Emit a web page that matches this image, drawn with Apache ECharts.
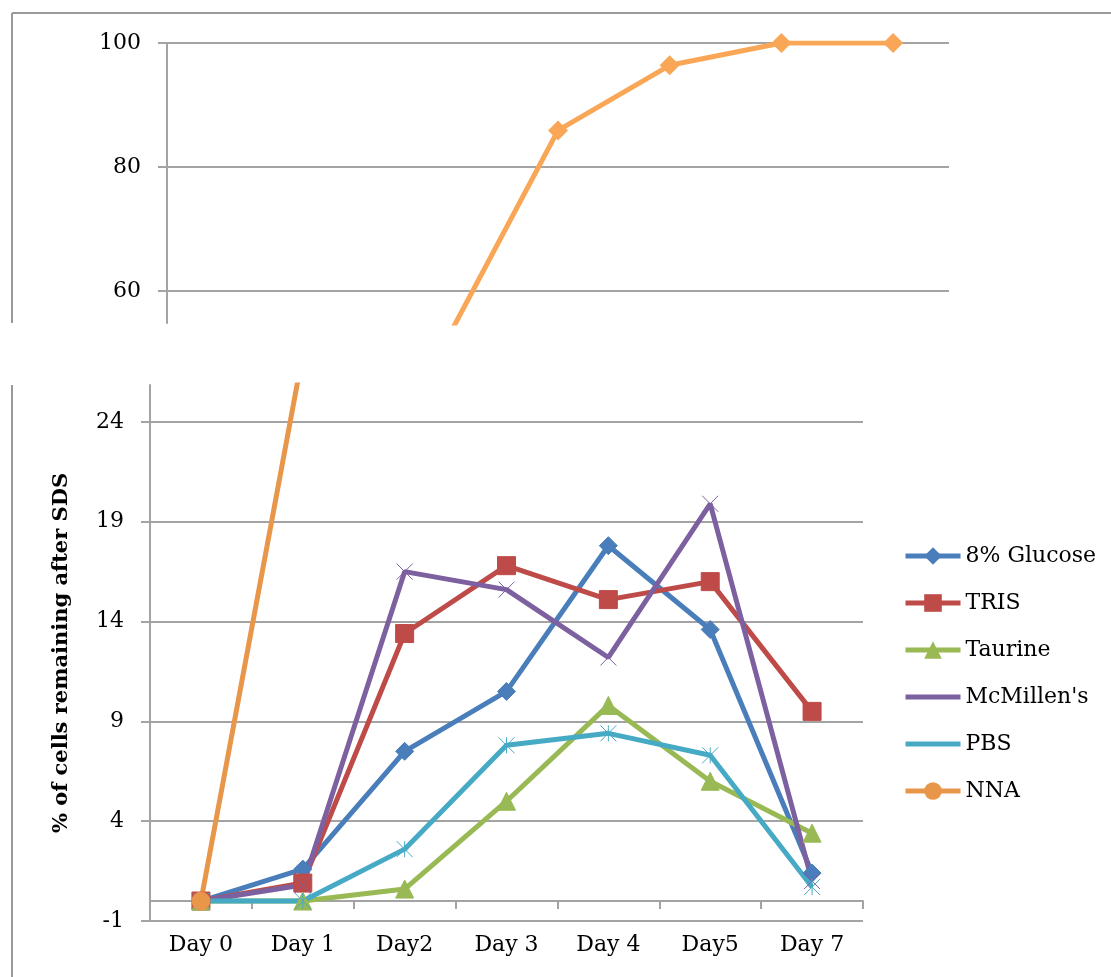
<!DOCTYPE html>
<html>
<head>
<meta charset="utf-8">
<script src="https://cdn.jsdelivr.net/npm/echarts@6/dist/echarts.min.js"></script>
<style>
  html, body { margin: 0; padding: 0; background: #fff; }
  #main { width: 1111px; height: 977px; }
</style>
</head>
<body>
<div id="main"></div>
<script>
// categories and values
var days = ['Day 0', 'Day 1', 'Day2', 'Day 3', 'Day 4', 'Day5', 'Day 7']
var glucose = [0, 1.6, 7.5, 10.5, 17.8, 13.6, 1.4]
var tris = [0, 0.9, 13.4, 16.8, 15.1, 16.0, 9.5]
var taurine = [0, 0, 0.6, 5.0, 9.8, 6.0, 3.4]
var mcmillens = [0, 0.8, 16.5, 15.6, 12.2, 19.9, 1.0]
var pbs = [0, 0, 2.6, 7.8, 8.4, 7.3, 0.7]
var nna = [0, 27.4, 52, 85.9, 96.4, 100, 100]
var lowTicks = [-1, 4, 9, 14, 19, 24]
var highTicks = [60, 80, 100]

var gray = '#a3a3a3'
var font = 'DejaVu Serif'

function lowSeries (name, data, color, symbol, size) {
  return {
    name: name,
    type: 'line',
    xAxisIndex: 1,
    yAxisIndex: 1,
    data: data,
    symbol: symbol,
    symbolSize: size,
    color: color,
    lineStyle: { width: 5, color: color },
    itemStyle: { color: color, borderColor: color },
    animation: false
  }
}

var myChart = echarts.init(document.getElementById('main'))
myChart.setOption({
  backgroundColor: '#fff',
  textStyle: { fontFamily: font },
  grid: [
    { left: 167, right: 162, top: 43, bottom: 654 },
    { left: 150, right: 248, top: 385, bottom: 56 }
  ],
  legend: {
    left: 898,
    top: 538,
    orient: 'vertical',
    itemWidth: 55,
    itemHeight: 22,
    itemGap: 21,
    lineStyle: { width: 5 },
    textStyle: { fontFamily: font, fontSize: 22, lineHeight: 26, color: '#000' },
    data: ['8% Glucose', 'TRIS', 'Taurine', "McMillen's", 'PBS', 'NNA']
  },
  xAxis: [
    {
      gridIndex: 0,
      type: 'category',
      data: days,
      show: false
    },
    {
      gridIndex: 1,
      type: 'category',
      data: days,
      axisLine: { onZero: true, lineStyle: { color: gray, width: 2 } },
      axisTick: { show: true, length: 8, lineStyle: { color: gray, width: 2 } },
      axisLabel: { color: '#000', fontFamily: font, fontSize: 22, margin: 13 }
    }
  ],
  yAxis: [
    {
      gridIndex: 0,
      type: 'value',
      min: 54.84,
      max: 100,
      axisLine: { show: true, lineStyle: { color: gray, width: 2 } },
      axisTick: { show: true, length: 9, customValues: highTicks, lineStyle: { color: gray, width: 2 } },
      axisLabel: { color: '#000', fontFamily: font, fontSize: 22, margin: 26, customValues: highTicks },
      splitLine: { show: true, lineStyle: { color: gray, width: 2 } }
    },
    {
      gridIndex: 1,
      type: 'value',
      min: -1,
      max: 25.85,
      name: '% of cells remaining after SDS',
      nameLocation: 'middle',
      nameGap: 78,
      nameTextStyle: { color: '#000', fontFamily: font, fontSize: 21, fontWeight: 'bold' },
      axisLine: { show: true, lineStyle: { color: gray, width: 2 } },
      axisTick: { show: true, length: 9, customValues: lowTicks, lineStyle: { color: gray, width: 2 } },
      axisLabel: { color: '#000', fontFamily: font, fontSize: 22, margin: 26, customValues: lowTicks },
      splitLine: { show: true, lineStyle: { color: gray, width: 2 } }
    }
  ],
  graphic: [
    { type: 'line', shape: { x1: 12, y1: 13, x2: 1111, y2: 13 }, style: { stroke: '#9a9a9a', lineWidth: 2 } },
    { type: 'line', shape: { x1: 12, y1: 13, x2: 12, y2: 323 }, style: { stroke: '#9a9a9a', lineWidth: 2 } },
    { type: 'line', shape: { x1: 12, y1: 385, x2: 12, y2: 977 }, style: { stroke: '#9a9a9a', lineWidth: 2 } }
  ],
  series: [
    {
      name: 'NNA top',
      type: 'line',
      xAxisIndex: 0,
      yAxisIndex: 0,
      data: nna,
      symbol: 'diamond',
      symbolSize: 20,
      lineStyle: { width: 5, color: '#f9a757' },
      itemStyle: { color: '#f9a757' },
      animation: false
    },
    lowSeries('8% Glucose', glucose, '#4a7ebb', 'diamond', 18),
    lowSeries('TRIS', tris, '#be4b48', 'rect', 18),
    lowSeries('Taurine', taurine, '#98b954', 'triangle', 18),
    lowSeries("McMillen's", mcmillens, '#7d60a0', 'path://M0,0L10,10M10,0L0,10', 16),
    lowSeries('PBS', pbs, '#46aac5', 'path://M0,0L10,10M10,0L0,10M5,0L5,10', 16),
    lowSeries('NNA', nna, '#e8964a', 'circle', 18)
  ]
})
</script>
</body>
</html>
